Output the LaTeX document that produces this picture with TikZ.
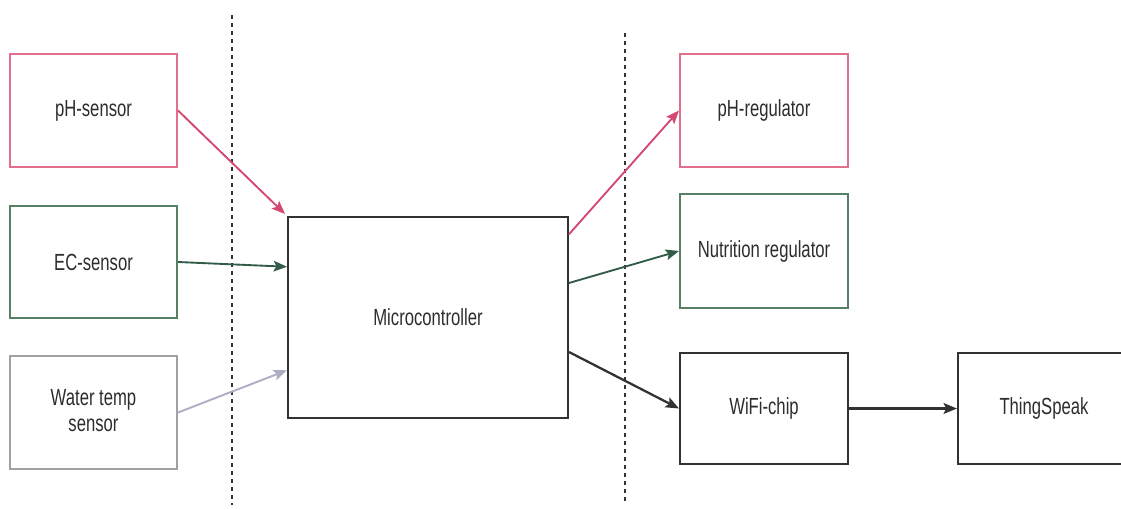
\documentclass[tikz,border=0pt]{standalone}
\usepackage{fontspec}
\setmainfont{Liberation Sans}
\usetikzlibrary{arrows.meta,calc}
\definecolor{pinkbox}{RGB}{226,112,140}
\definecolor{pinkarr}{RGB}{212,72,112}
\definecolor{greenbox}{RGB}{88,128,100}
\definecolor{greenarr}{RGB}{50,92,72}
\definecolor{graybox}{RGB}{160,160,165}
\definecolor{grayarr}{RGB}{172,172,196}
\definecolor{txt}{RGB}{45,45,45}
\definecolor{dline}{RGB}{50,50,50}
\newcommand{\lbl}[1]{\scalebox{1}[1.4]{#1}}
\tikzset{
  blk/.style={draw, line width=1.5pt, rectangle, inner sep=0pt, text=txt,
    font=\fontsize{12.5}{15}\selectfont, align=center},
  arr/.style={line width=1.4pt, -{Stealth[length=10pt,width=8pt,inset=2pt]}},
  sep/.style={draw=dline, line width=0.9pt, dash pattern=on 3pt off 3pt}
}
\begin{document}
\begin{tikzpicture}[x=0.75pt,y=-0.75pt]
\clip (0,0) rectangle (1121,510);
\fill[white] (0,0) rectangle (1121,510);

% separators
\coordinate (d1a) at (232,15);
\coordinate (d1b) at (232,505);
\coordinate (d2a) at (625,33);
\coordinate (d2b) at (625,502);
\draw[sep] (d1a) -- (d1b);
\draw[sep] (d2a) -- (d2b);

% left column
\node[blk, draw=pinkbox, minimum width=125.25pt, minimum height=84.75pt] (phs) at (93.5,110.5) {\lbl{pH-sensor}};
\node[blk, draw=greenbox, minimum width=125.25pt, minimum height=84pt] (ecs) at (93.5,262) {\lbl{EC-sensor}};
\node[blk, draw=graybox, minimum width=125.25pt, minimum height=84.75pt] (wts) at (93.5,412.5) {\lbl{\begin{tabular}{@{}c@{}}Water temp\\[-1pt]sensor\end{tabular}}};

% microcontroller
\node[blk, draw=dline, minimum width=210pt, minimum height=150.75pt] (mc) at (428,317.5) {\lbl{Microcontroller}};

% right column
\node[blk, draw=pinkbox, minimum width=126pt, minimum height=84.75pt] (phr) at (764,110.5) {\lbl{pH-regulator}};
\node[blk, draw=greenbox, minimum width=126pt, minimum height=85.5pt] (nut) at (764,251) {\lbl{Nutrition regulator}};
\node[blk, draw=dline, minimum width=126pt, minimum height=83.25pt] (wifi) at (764,408.5) {\lbl{WiFi-chip}};
\node[blk, draw=dline, minimum width=129pt, minimum height=83.25pt] (ts) at (1044,408.5) {\lbl{ThingSpeak}};

% connectors
\draw[arr, draw=pinkarr] (phs.east) -- ($(mc.north west)+(-2,-2)$);
\draw[arr, draw=greenarr] (ecs.east) -- ($(mc.north west)!0.25!(mc.south west)$);
\draw[arr, draw=grayarr] (wts.east) -- ($(mc.north west)!0.76!(mc.south west)$);

\draw[arr, draw=pinkarr] ($(mc.north east)!0.09!(mc.south east)$) -- (phr.west);
\draw[arr, draw=greenarr] ($(mc.north east)!0.33!(mc.south east)$) -- (nut.west);
\draw[arr, draw=dline, line width=1.7pt] ($(mc.north east)!0.67!(mc.south east)$) -- (wifi.west);
\draw[arr, draw=dline, line width=2.2pt] (wifi.east) -- (ts.west);
\end{tikzpicture}
\end{document}
